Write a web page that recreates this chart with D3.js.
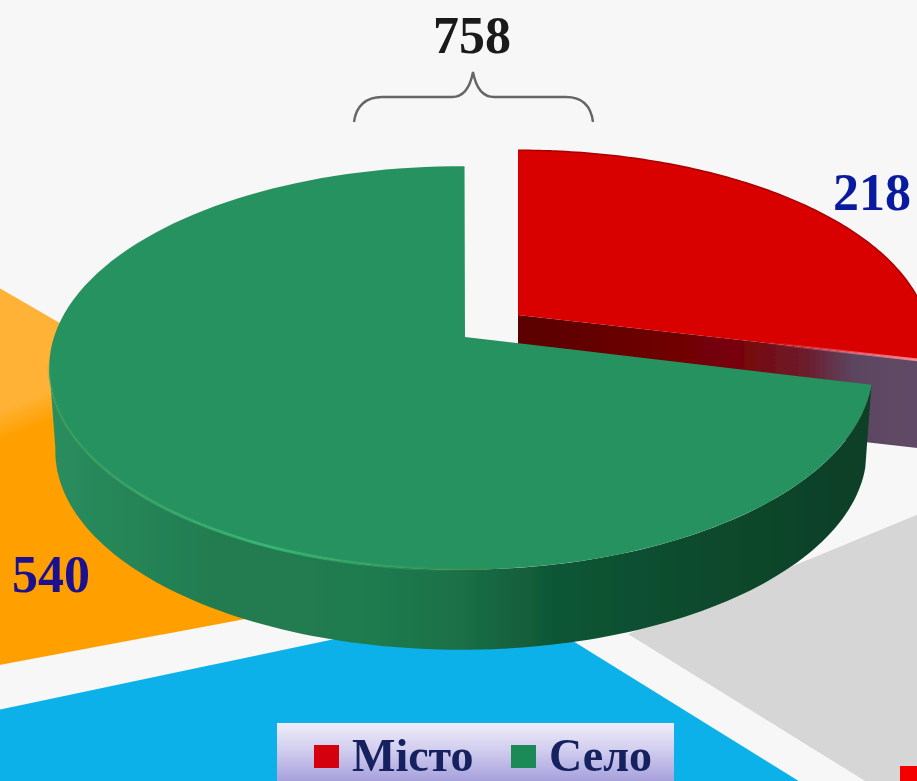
<!DOCTYPE html>
<html>
<head>
<meta charset="utf-8">
<script src="https://cdn.jsdelivr.net/npm/d3@7"></script>
<style>
body { margin: 0; background: #f7f7f7; }
svg { display: block; }
text { font-family: "Liberation Serif", serif; font-weight: bold; }
</style>
</head>
<body>
<svg id="chart" width="917" height="781"></svg>
<script>
const categories = ["Місто", "Село"];
const values = [218, 540];
const backStartDeg = [259.4, 121.8, 67.6];
const backEndDeg = [300.1, 258.1, 121.8];
const backLabel = "540";

let svg = d3.select("#chart");
let defs = svg.append("defs");

function addGradient(id, x1, y1, x2, y2, stops) {
    let g = defs.append("linearGradient")
        .attr("id", id)
        .attr("gradientUnits", "userSpaceOnUse")
        .attr("x1", x1).attr("y1", y1)
        .attr("x2", x2).attr("y2", y2);
    stops.forEach(s => {
        g.append("stop")
            .attr("offset", s[0])
            .attr("stop-color", s[1])
            .attr("stop-opacity", s.length > 2 ? s[2] : 1);
    });
}

let backApex = [[491, 573], [510, 602], [628, 634]];

// orange gradient lives in the slice's own translated space
addGradient("orangeFill", -491, -163, -481, -137, [[0, "#ffb236"], [1, "#ffa000"]]);
addGradient("greenSide", 50, 0, 868, 0, [[0, "#2a8d5e"], [0.2, "#217c50"], [0.4, "#1f7b4e"], [0.5, "#1b7047"], [0.62, "#0f5635"], [0.8, "#0c4a2d"], [1, "#0a3f27"]]);
addGradient("redCut", 518, 0, 917, 0, [[0, "#5a0000"], [0.55, "#780408"], [0.72, "#6c1c2c"], [0.84, "#5c4560"], [1, "#5f4a66"]]);
addGradient("redGlow", 760, 0, 917, 0, [[0, "#ff8090", 0], [1, "#ff8f9c", 0.9]]);
addGradient("greenGlow", 60, 0, 470, 0, [[0, "#3ab877", 0.2], [0.5, "#3ab877", 0.9], [1, "#3ab877", 0]]);
addGradient("legendFill", 0, 723, 0, 781, [[0, "#efedf9"], [0.5, "#cfcbee"], [1, "#a6a0dc"]]);

defs.append("filter")
    .attr("id", "soft")
    .append("feGaussianBlur")
    .attr("stdDeviation", 0.7);

let chart = svg.append("g").attr("filter", "url(#soft)");

// flat slices of the big pie behind
let backFill = ["url(#orangeFill)", "#08b1ea", "#d6d6d6"];
let backArc = d3.arc().innerRadius(0).outerRadius(1600);

backStartDeg.forEach((s, i) => {
    chart.append("path")
        .attr("transform", `translate(${backApex[i][0]},${backApex[i][1]})`)
        .attr("d", backArc({
            startAngle: s * Math.PI / 180,
            endAngle: backEndDeg[i] * Math.PI / 180
        }))
        .attr("fill", backFill[i]);
});

// corner of the next legend swatch, cut by the frame
chart.append("rect")
    .attr("x", 900).attr("y", 766)
    .attr("width", 30).attr("height", 30)
    .attr("fill", "#f40000");

// tilted disc: angle on the circle -> screen point, with a little perspective
let tilt = 0.1535;
let redDisc = { cx: 518, cy: 315, rx: 407, ry: 190, shrink: 1, depth: 88 };
let greenDisc = { cx: 461, cy: 337, rx: 407, ry: 197, shrink: 0.985, depth: 83.5 };

function ringPoint(disc, a, lower) {
    let u = Math.sin(a);
    let v = -Math.cos(a);
    let w = 1 - tilt * v;
    let x = disc.rx * u / w;
    let y = disc.ry * v / w;
    if (lower) {
        return [disc.cx + x * disc.shrink, disc.cy + y * disc.shrink + disc.depth];
    }
    return [disc.cx + x, disc.cy + y];
}

function ringArc(disc, a0, a1, lower) {
    return d3.range(0, 121).map(i => ringPoint(disc, a0 + (a1 - a0) * i / 120, lower));
}

let line = d3.line();
let pie = d3.pie().sort(null);
let slices = pie(values);
let red = slices[0];
let green = slices[1];
let colour = d3.scaleOrdinal().domain(categories).range(["#d90000", "#27925f"]);

// red cut face, seen under the top
let redTip = ringPoint(redDisc, red.endAngle, false);
chart.append("path")
    .attr("d", line([
        [redDisc.cx, redDisc.cy],
        redTip,
        [redTip[0], redTip[1] + redDisc.depth],
        [redDisc.cx, redDisc.cy + redDisc.depth]
    ]) + "Z")
    .attr("fill", "url(#redCut)");

chart.append("path")
    .attr("d", line([[redDisc.cx, redDisc.cy]].concat(ringArc(redDisc, red.startAngle, red.endAngle, false))) + "Z")
    .attr("fill", colour(categories[0]));

chart.append("path")
    .attr("d", line(ringArc(redDisc, red.startAngle, red.endAngle, false)))
    .attr("fill", "none")
    .attr("stroke", "#a80000")
    .attr("stroke-width", 1.5);

chart.append("path")
    .attr("d", line([[redDisc.cx, redDisc.cy], redTip]))
    .attr("fill", "none")
    .attr("stroke", "url(#redGlow)")
    .attr("stroke-width", 3);

// green rim
let sideEnd = 262 * Math.PI / 180;
chart.append("path")
    .attr("d", line(ringArc(greenDisc, green.startAngle, sideEnd, false)
        .concat(ringArc(greenDisc, sideEnd, green.startAngle, true))) + "Z")
    .attr("fill", "url(#greenSide)");

// green top, nudged past 12 o'clock so the cut edge stands upright
chart.append("path")
    .attr("d", line([[greenDisc.cx + 4, greenDisc.cy]].concat(ringArc(greenDisc, green.startAngle, green.endAngle + 0.01, false))) + "Z")
    .attr("fill", colour(categories[1]));

chart.append("path")
    .attr("d", line(ringArc(greenDisc, 180 * Math.PI / 180, 262 * Math.PI / 180, false)))
    .attr("fill", "none")
    .attr("stroke", "url(#greenGlow)")
    .attr("stroke-width", 3);

// brace over the total
chart.append("path")
    .attr("d", "M354,122 C356,106 366,97 382,97 L452,97 C463,97 470,88 473,72 C476,88 483,97 494,97 L566,97 C582,97 591,106 593,122")
    .attr("fill", "none")
    .attr("stroke", "#666666")
    .attr("stroke-width", 2.4);

// legend
let legend = chart.append("g");
legend.append("rect")
    .attr("x", 277).attr("y", 723)
    .attr("width", 397).attr("height", 58)
    .attr("fill", "url(#legendFill)");

let legendX = d3.scaleOrdinal().domain(categories).range([314, 511]);
let swatch = d3.scaleOrdinal().domain(categories).range(["#d40010", "#1f8a56"]);

legend.selectAll("rect.swatch")
    .data(categories)
    .enter()
    .append("rect")
    .classed("swatch", true)
    .attr("x", d => legendX(d))
    .attr("y", 745)
    .attr("width", 25)
    .attr("height", 23)
    .attr("fill", d => swatch(d));

legend.selectAll("text")
    .data(categories)
    .enter()
    .append("text")
    .attr("x", d => legendX(d) + 38)
    .attr("y", 771)
    .attr("font-size", 46)
    .attr("fill", "#15205e")
    .text(d => d);

// value labels
svg.append("text")
    .attr("x", 472).attr("y", 53)
    .attr("text-anchor", "middle")
    .attr("font-size", 52)
    .attr("fill", "#1a1a1a")
    .text(d3.sum(values));

svg.append("text")
    .attr("x", 872).attr("y", 210)
    .attr("text-anchor", "middle")
    .attr("font-size", 52)
    .attr("fill", "#0a1a9f")
    .text(values[0]);

svg.append("text")
    .attr("x", 51).attr("y", 592)
    .attr("text-anchor", "middle")
    .attr("font-size", 52)
    .attr("fill", "#1a1090")
    .text(backLabel);
</script>
</body>
</html>
